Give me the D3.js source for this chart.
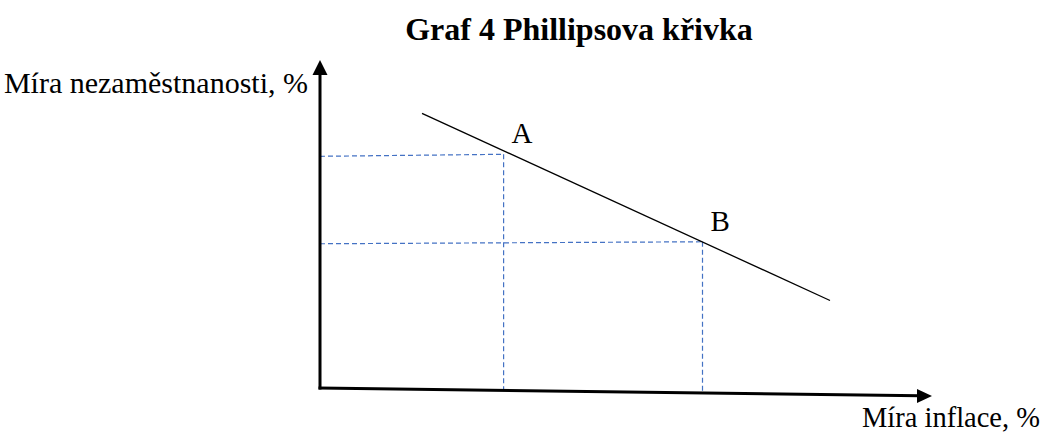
<!DOCTYPE html>
<html><head><meta charset="utf-8">
<script src="https://cdn.jsdelivr.net/npm/d3@7"></script>
<style>body{margin:0;background:#fff}svg{display:block}text{font-family:"Liberation Serif","Times New Roman",serif;fill:#000}</style>
</head><body>
<script>
const title = "Graf 4 Phillipsova křivka";
const xLabel = "Míra inflace, %";
const yLabel = "Míra nezaměstnanosti, %";
const curve = [{inflation: 2.0, unemployment: 10.05}, {inflation: 10.0, unemployment: 3.2}];
const points = [{name: "A", inflation: 3.6, unemployment: 8.55}, {name: "B", inflation: 7.5, unemployment: 5.35}];
const axisMax = [12, 12];

const W = 1045, H = 432;
const svg = d3.select("body").append("svg").attr("width", W).attr("height", H);
const x = d3.scaleLinear().domain([0, axisMax[0]]).range([320, 932]);
const y = d3.scaleLinear().domain([0, axisMax[1]]).range([388, 60]);
const tilt = 8; // x-axis drawn slightly sloping like the reference
const axisY = xv => y(0) + tilt * (x(xv) - x(0)) / (x(axisMax[0]) - x(0));

// dashed guides
const blue = "#4472C4";
points.forEach(p => {
  svg.append("line").attr("x1", x(0)).attr("x2", x(p.inflation))
    .attr("y1", y(p.unemployment) + 2).attr("y2", y(p.unemployment))
    .attr("stroke", blue).attr("stroke-width", 1.2).attr("stroke-dasharray", "5,3");
  svg.append("line").attr("x1", x(p.inflation)).attr("x2", x(p.inflation))
    .attr("y1", y(p.unemployment)).attr("y2", axisY(p.inflation))
    .attr("stroke", blue).attr("stroke-width", 1.2).attr("stroke-dasharray", "5,3");
});

// curve
svg.append("path").datum(curve)
  .attr("d", d3.line().x(d => x(d.inflation)).y(d => y(d.unemployment)))
  .attr("stroke", "#000").attr("stroke-width", 1.3).attr("fill", "none");

// axes
svg.append("line").attr("x1", x(0)).attr("y1", y(0) + 1.5).attr("x2", x(0)).attr("y2", y(axisMax[1]) + 12)
  .attr("stroke", "#000").attr("stroke-width", 3);
svg.append("path").attr("d", `M${x(0)},${y(axisMax[1])} L${x(0) - 7.5},${y(axisMax[1]) + 15} L${x(0) + 7.5},${y(axisMax[1]) + 15} Z`).attr("fill", "#000");
const xe = x(axisMax[0]), ye = axisY(axisMax[0]);
svg.append("line").attr("x1", x(0) - 1.5).attr("y1", y(0)).attr("x2", xe - 12).attr("y2", ye - 0.15)
  .attr("stroke", "#000").attr("stroke-width", 3);
svg.append("path").attr("d", `M${xe},${ye} L${xe - 15},${ye - 7} L${xe - 15},${ye + 7} Z`).attr("fill", "#000");

// texts
svg.append("text").attr("x", 579).attr("y", 40).attr("text-anchor", "middle")
  .attr("font-size", 32).attr("font-weight", "bold").text(title);
svg.append("text").attr("x", 308).attr("y", 93).attr("text-anchor", "end").attr("font-size", 30).text(yLabel);
svg.append("text").attr("x", 1040).attr("y", 427).attr("text-anchor", "end").attr("font-size", 28.5).text(xLabel);
svg.selectAll(".pl").data(points).enter().append("text")
  .attr("x", d => x(d.inflation) + 8).attr("y", d => y(d.unemployment) - 11)
  .attr("font-size", 29).text(d => d.name);
</script>
</body></html>
